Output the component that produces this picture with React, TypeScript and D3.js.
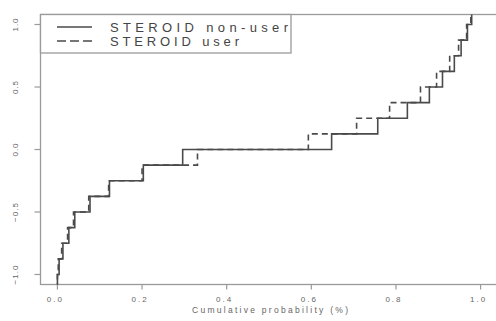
import React from "react";
import * as d3 from "d3";

// Quantile levels (values beyond ±1 mark where the step leaves the plot frame)
const levels = [-1.2, -1, -0.875, -0.75, -0.625, -0.5, -0.375, -0.25, -0.125, 0, 0.125, 0.25, 0.375, 0.5, 0.625, 0.75, 0.875, 1, 1.2];
// Cumulative probability at which each level starts
const nonUserProb = [0.0, 0.0, 0.004, 0.013, 0.027, 0.041, 0.077, 0.123, 0.203, 0.296, 0.648, 0.757, 0.827, 0.879, 0.910, 0.938, 0.954, 0.969, 0.979];
const userProb = [0.0, 0.0, 0.002, 0.010, 0.024, 0.038, 0.074, 0.121, 0.200, 0.331, 0.593, 0.707, 0.785, 0.858, 0.896, 0.927, 0.948, 0.967, 0.977];

const xTicks = [0, 0.2, 0.4, 0.6, 0.8, 1.0];
const yTicks = [-1, -0.5, 0, 0.5, 1];
const seriesNames = ["STEROID non-user", "STEROID user"];

const W = 496;
const H = 321;

export default function App() {
  const x = d3.scaleLinear().domain([-0.04, 1.04]).range([40.5, 497.5]);
  const y = d3.scaleLinear().domain([-1.08, 1.08]).range([284.5, 14.5]);
  const line = d3
    .line<[number, number]>()
    .x((d) => x(d[0]))
    .y((d) => y(d[1]))
    .curve(d3.curveStepAfter);

  const nonUser: [number, number][] = levels.map((l, i) => [nonUserProb[i], l]);
  const user: [number, number][] = levels.map((l, i) => [userProb[i], l]);

  const frame = "#9a9a9a";
  const ink = "#4a4a4a";
  const font = "'Liberation Sans', Arial, Helvetica, sans-serif";
  const [x0, x1] = x.range();
  const [yb, yt] = y.range();

  return (
    <svg
      width={W}
      height={H}
      style={{ position: "absolute", left: 0, top: 0, background: "#fff" }}
      fontFamily={font}
    >
      <defs>
        <clipPath id="plot">
          <rect x={x0} y={yt} width={x1 - x0} height={yb - yt} />
        </clipPath>
      </defs>
      {/* frame */}
      <rect x={x0} y={yt} width={x1 - x0} height={yb - yt} fill="none" stroke={frame} strokeWidth={1.3} />
      {/* y ticks */}
      {yTicks.map((t) => (
        <g key={"y" + t}>
          <line x1={x0 - 6} x2={x0} y1={y(t)} y2={y(t)} stroke={frame} strokeWidth={1.2} />
          <text
            transform={`translate(15.5,${y(t)}) rotate(-90)`}
            textAnchor="middle"
            dominantBaseline="central"
            fontSize={8}
            letterSpacing={1}
            fill="#666"
          >
            {d3.format(".1f")(t)}
          </text>
        </g>
      ))}
      {/* x ticks */}
      {xTicks.map((t) => (
        <g key={"x" + t}>
          <line x1={x(t)} x2={x(t)} y1={yb} y2={yb + 5} stroke={frame} strokeWidth={1.2} />
          <text x={x(t) - 2} y={301.5} textAnchor="middle" fontSize={8} letterSpacing={2} fill="#666">
            {d3.format(".1f")(t)}
          </text>
        </g>
      ))}
      <text x={270} y={313} textAnchor="middle" fontSize={8.5} textLength={156} lengthAdjust="spacing" fill="#666">
        Cumulative probability (%)
      </text>
      {/* curves */}
      <g clipPath="url(#plot)" fill="none" stroke={ink} strokeWidth={1.6}>
        <path d={line(user) || ""} strokeDasharray="6,4" />
        <path d={line(nonUser) || ""} />
      </g>
      {/* legend */}
      <rect x={x0} y={yt} width={291 - x0} height={53 - yt} fill="#fff" stroke={frame} strokeWidth={1.3} />
      <line x1={57} x2={92} y1={27} y2={27} stroke={ink} strokeWidth={1.3} />
      <line x1={57} x2={92} y1={41} y2={41} stroke={ink} strokeWidth={1.3} strokeDasharray="9,4" />
      <text x={110} y={32} fontSize={13} textLength={178} lengthAdjust="spacing" fill="#444">
        {seriesNames[0]}
      </text>
      <text x={110} y={46} fontSize={13} textLength={129} lengthAdjust="spacing" fill="#444">
        {seriesNames[1]}
      </text>
    </svg>
  );
}
